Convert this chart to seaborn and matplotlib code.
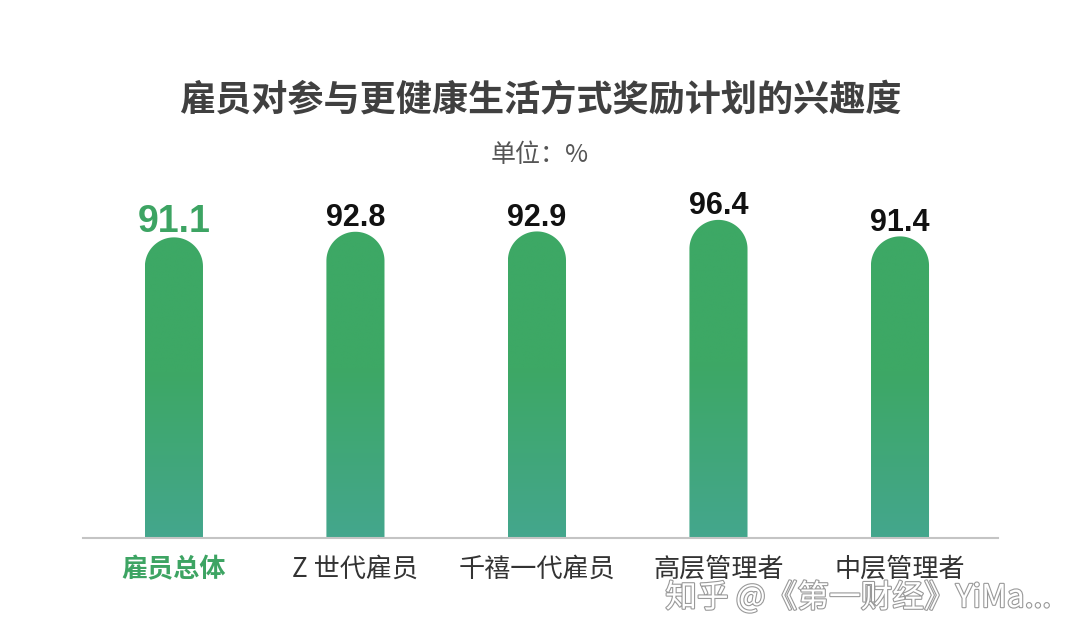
import numpy as np
import pandas as pd
import matplotlib
matplotlib.use('Agg')
import matplotlib.pyplot as plt
import seaborn as sns
from matplotlib.path import Path
from matplotlib.patches import PathPatch
import matplotlib.patheffects as pe

categories = ['雇员总体', 'Z 世代雇员', '千禧一代雇员', '高层管理者', '中层管理者']
values = [91.1, 92.8, 92.9, 96.4, 91.4]
title = '雇员对参与更健康生活方式奖励计划的兴趣度'
subtitle = '单位：%'
watermark = '知乎 @《第一财经》YiMa...'

sns.set_theme(style='white')
plt.rcParams['font.family'] = ['Noto Sans CJK SC', 'DejaVu Sans']

W, H = 1080, 641
fig = plt.figure(figsize=(W / 100, H / 100), dpi=100)
fig.patch.set_facecolor('white')
ax = fig.add_axes([83 / W, 1 - 538 / H, 915 / W, 438 / H])
df = pd.DataFrame({'cat': categories, 'val': values})
sns.barplot(data=df, x='cat', y='val', ax=ax, width=0.32, color='#3DA865')
XL = (-0.501, 4.54)
YL = (0, 438 / 3.3)
ax.set_xlim(*XL)
ax.set_ylim(*YL)

# scale (px per data unit)
sx = 915 / (XL[1] - XL[0])
sy = 438 / (YL[1] - YL[0])

top_c = np.array([61, 168, 101]) / 255
bot_c = np.array([68, 166, 141]) / 255

patches = list(ax.patches)
for p in patches:
    x0 = p.get_x()
    w = p.get_width()
    h = p.get_height()
    x1 = x0 + w
    rx = w / 2
    ry = rx * sx / sy
    cx = x0 + rx
    cy = h - ry
    th = np.linspace(np.pi, 0, 60)
    verts = [(x0, 0), (x0, cy)]
    verts += [(cx + rx * np.cos(t), cy + ry * np.sin(t)) for t in th]
    verts += [(x1, 0), (x0, 0)]
    codes = [Path.MOVETO] + [Path.LINETO] * (len(verts) - 2) + [Path.CLOSEPOLY]
    path = Path(verts, codes)
    clip = PathPatch(path, facecolor='none', edgecolor='none', transform=ax.transData)
    ax.add_patch(clip)
    p.set_visible(False)
    n = 256
    ys = np.linspace(0, h, n)
    f = np.clip(ys / (0.55 * h), 0, 1)[:, None]
    grad = bot_c[None, :] * (1 - f) + top_c[None, :] * f
    im = ax.imshow(grad[:, None, :], extent=[x0, x1, 0, h], origin='lower',
                   aspect='auto', zorder=2, interpolation='bilinear')
    im.set_clip_path(clip)

ax.set_xlim(*XL)
ax.set_ylim(*YL)

for i, v in enumerate(values):
    if i == 0:
        ax.annotate(f'{v:.1f}', (i, v), xytext=(0, 4), textcoords='offset points',
                    ha='center', va='baseline', fontsize=27, fontweight='bold',
                    color='#3DA463', family=['Liberation Sans', 'DejaVu Sans'])
    else:
        ax.annotate(f'{v:.1f}', (i, v), xytext=(0, 4), textcoords='offset points',
                    ha='center', va='baseline', fontsize=22, fontweight='bold',
                    color='#111111', family=['Liberation Sans', 'DejaVu Sans'])

for s in ['top', 'left', 'right']:
    ax.spines[s].set_visible(False)
ax.spines['bottom'].set_color('#C4C4C4')
ax.spines['bottom'].set_linewidth(1.5)
ax.set_yticks([])
ax.set_xlabel('')
ax.set_ylabel('')
ax.set_xticks(range(len(categories)))
ax.set_xticklabels(categories, fontsize=18.8, color='#333333')
ax.tick_params(axis='x', length=0, pad=13)
lbl0 = ax.get_xticklabels()[0]
lbl0.set_color('#3DA463')
lbl0.set_fontweight('bold')

fig.text(0.5, 1 - 100 / H, title, ha='center', va='center', fontsize=26,
         fontweight='bold', color='#404040')
fig.text(0.5, 1 - 155 / H, subtitle, ha='center', va='center', fontsize=18,
         color='#555555')
fig.text(858 / W, 1 - 598 / H, watermark, ha='center', va='center', fontsize=22.8,
         color='white',
         path_effects=[pe.Stroke(linewidth=1.6, foreground='#999999'), pe.Normal()])

fig.savefig('out.png', dpi=100, facecolor='white')
